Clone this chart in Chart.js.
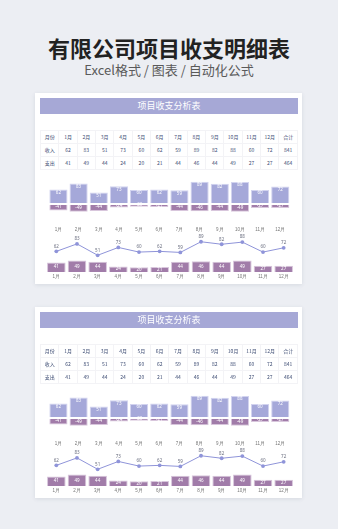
<!DOCTYPE html>
<html>
<head>
<meta charset="utf-8">
<script src="https://cdn.jsdelivr.net/npm/chart.js@4.4.0/dist/chart.umd.min.js"></script>
<style>
body{margin:0;width:338px;height:529px;background:#eceef3;overflow:hidden;position:relative;font-family:"Noto Sans CJK SC","Noto Sans",sans-serif}
#title{position:absolute;top:32px;left:0;width:338px;text-align:center;font-size:22px;line-height:30px;font-weight:bold;color:#222}
#sub{position:absolute;top:61px;left:0;width:338px;text-align:center;font-size:13px;line-height:18px;color:#5a5a5a}
.panel{position:absolute;left:35px;width:267px;height:191px;background:#fff;box-shadow:0 1px 4px rgba(60,70,100,0.12)}
.head{position:absolute;left:5px;top:5px;width:258px;height:16px;background:#a6a8d6;color:#fff;font-size:9px;line-height:16px;text-align:center}
.tbl{position:absolute;left:5px;top:37px;width:258px;border-collapse:collapse;table-layout:fixed}
.tbl td{border:1px solid #f3f3f6;height:12px;padding:0;text-align:center;font-size:5px;line-height:12px;color:#3e4d74}
canvas{position:absolute;left:7px}
</style>
</head>
<body>
<div id="title">有限公司项目收支明细表</div>
<div id="sub">Excel格式 / 图表 / 自动化公式</div>
<script>
const months = ['1月','2月','3月','4月','5月','6月','7月','8月','9月','10月','11月','12月'];
const income = [62, 83, 51, 73, 60, 62, 59, 89, 82, 88, 60, 72];
const expense = [41, 49, 44, 24, 20, 21, 44, 46, 44, 49, 27, 27];
const totals = [841, 464];
const rowNames = ['月份', '收入', '支出'];
const panelTops = [93, 307];

const lavender = '#a5a8d9';
const purple = '#a17ca9';

// draws the small numbers on bars and points
const valueLabels = {
  id: 'valueLabels',
  afterDatasetsDraw(chart) {
    const ctx = chart.ctx;
    chart.data.datasets.forEach(function(ds, i) {
      const meta = chart.getDatasetMeta(i);
      ctx.save();
      ctx.font = '4.5px "Noto Sans"';
      ctx.textAlign = 'center';
      ctx.textBaseline = 'middle';
      meta.data.forEach(function(el, j) {
        const v = ds.data[j];
        let y = el.y;
        if (ds.labelMode == 'top') { y = el.y + 3; ctx.fillStyle = '#fff'; }
        else if (ds.labelMode == 'mid') { y = (el.y + el.base) / 2; ctx.fillStyle = '#fff'; }
        else { y = el.y - 5; ctx.fillStyle = '#6b6f80'; }
        ctx.fillText(String(v), el.x, y);
      });
      ctx.restore();
    });
  }
};

function xAxis(h, pad) {
  return {
    grid: {display: false, drawTicks: false},
    border: {display: false},
    ticks: {font: {size: 4.5}, color: '#777', padding: pad},
    afterFit: function(s) { s.height = h; }
  };
}
function hiddenY(extra) {
  return Object.assign({
    position: 'left',
    grid: {display: false, drawTicks: false},
    border: {display: false},
    ticks: {display: false},
    afterFit: function(s) { s.width = 0; }
  }, extra);
}

function makePanel(top) {
  const panel = document.createElement('div');
  panel.className = 'panel';
  panel.style.top = top + 'px';
  document.body.appendChild(panel);

  const head = document.createElement('div');
  head.className = 'head';
  head.textContent = '项目收支分析表';
  panel.appendChild(head);

  const table = document.createElement('table');
  table.className = 'tbl';
  const rows = [months.concat(['合计']), income.concat([totals[0]]), expense.concat([totals[1]])];
  rows.forEach(function(r, i) {
    const tr = document.createElement('tr');
    const th = document.createElement('td');
    th.textContent = rowNames[i];
    tr.appendChild(th);
    r.forEach(function(v) {
      const td = document.createElement('td');
      td.textContent = v;
      tr.appendChild(td);
    });
    table.appendChild(tr);
  });
  panel.appendChild(table);

  // income up / expense down (y2 sits on top of the stack)
  const c1 = document.createElement('canvas');
  c1.width = 256; c1.height = 56;
  c1.style.top = '87px';
  panel.appendChild(c1);
  new Chart(c1, {
    type: 'bar',
    data: {
      labels: months,
      datasets: [
        {data: income, yAxisID: 'y2', base: 14, grouped: false, backgroundColor: lavender, borderColor: '#d2d3ef', borderWidth: 1, labelMode: 'top'},
        {data: expense.map(v => -v), yAxisID: 'y', grouped: false, backgroundColor: purple, borderColor: '#d8c6dc', borderWidth: 1, labelMode: 'mid'}
      ]
    },
    options: {
      responsive: false, animation: false,
      barPercentage: 0.9, categoryPercentage: 1,
      plugins: {legend: {display: false}, tooltip: {enabled: false}},
      layout: {padding: 0},
      scales: {
        x: xAxis(22, 13),
        y: hiddenY({stack: 'a', stackWeight: 9, min: -62, max: -9}),
        y2: hiddenY({stack: 'a', stackWeight: 25, min: 7, max: 95})
      }
    },
    plugins: [valueLabels]
  });

  // income line + expense bars
  const c2 = document.createElement('canvas');
  c2.width = 256; c2.height = 51;
  c2.style.top = '138px';
  panel.appendChild(c2);
  new Chart(c2, {
    type: 'bar',
    data: {
      labels: months,
      datasets: [
        {type: 'line', data: income, yAxisID: 'y2', borderColor: '#8f94d9', borderWidth: 1, pointRadius: 1.9,
         pointBackgroundColor: '#8f94d9', pointBorderWidth: 0, tension: 0, labelMode: 'above'},
        {data: expense, yAxisID: 'y', backgroundColor: purple, borderColor: '#d8c6dc', borderWidth: 1, labelMode: 'mid'}
      ]
    },
    options: {
      responsive: false, animation: false,
      barPercentage: 0.9, categoryPercentage: 1,
      plugins: {legend: {display: false}, tooltip: {enabled: false}},
      layout: {padding: {top: 2}},
      scales: {
        x: xAxis(10, 2.5),
        y: hiddenY({stack: 'b', stackWeight: 15, min: 0, max: 61}),
        y2: hiddenY({stack: 'b', stackWeight: 24, min: 44, max: 108})
      }
    },
    plugins: [valueLabels]
  });
}

panelTops.forEach(makePanel);
</script>
</body>
</html>
